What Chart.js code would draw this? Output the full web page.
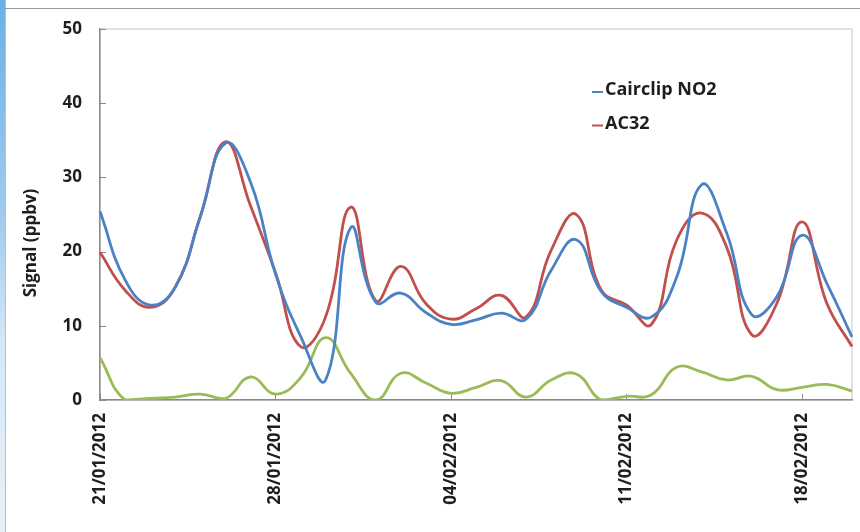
<!DOCTYPE html>
<html>
<head>
<meta charset="utf-8">
<script src="https://cdn.jsdelivr.net/npm/chart.js@4/dist/chart.umd.min.js"></script>
<style>
  html, body { margin: 0; padding: 0; background: #fff; }
  #wrap { position: relative; width: 860px; height: 532px; overflow: hidden; }
  #edge { position: absolute; left: 0; top: 0; width: 5px; height: 532px;
          background: linear-gradient(#6cb0e4, #9fcaee 40%, #d6e8f7 65%, #e6f0fa); }
  #edgeLine { position: absolute; left: 5px; top: 0; width: 1px; height: 532px; background: #b4c0cc; }
  #topLine { position: absolute; left: 5px; top: 8px; width: 855px; height: 1px; background: #9a9a9a; }
  canvas { position: absolute; left: 0; top: 0; }
</style>
</head>
<body>
<div id="wrap">
  <div id="edge"></div>
  <div id="edgeLine"></div>
  <div id="topLine"></div>
  <canvas id="signal" width="860" height="532"></canvas>
</div>
<script>
// daily samples, 21 Jan - 20 Feb 2012
const dates = [
  '21/01/2012', '22/01/2012', '23/01/2012', '24/01/2012', '25/01/2012', '26/01/2012',
  '27/01/2012', '28/01/2012', '29/01/2012', '30/01/2012', '31/01/2012', '01/02/2012',
  '02/02/2012', '03/02/2012', '04/02/2012', '05/02/2012', '06/02/2012', '07/02/2012',
  '08/02/2012', '09/02/2012', '10/02/2012', '11/02/2012', '12/02/2012', '13/02/2012',
  '14/02/2012', '15/02/2012', '16/02/2012', '17/02/2012', '18/02/2012', '19/02/2012',
  '20/02/2012'
];
const labelEvery = 7;          // one date label per week
const yMin = 0, yMax = 50, yStep = 10;

const cairclip = [25.4, 16.2, 12.8, 15.2, 24.7, 34.6, 29.4, 17.0, 8.6, 2.7, 23.2,
                  13.2, 14.4, 11.8, 10.2, 10.8, 11.7, 10.9, 17.5, 21.6, 14.6, 12.5,
                  11.2, 16.5, 29.0, 22.5, 11.5, 13.9, 22.2, 15.7, 8.5];
const ac32     = [19.9, 14.8, 12.5, 15.2, 24.7, 34.8, 26.2, 17.2, 7.2, 11.2, 26.0,
                  13.4, 18.0, 13.0, 10.9, 12.3, 14.1, 11.2, 20.2, 25.0, 14.8, 12.8,
                  10.2, 21.5, 25.2, 20.6, 8.8, 13.0, 24.0, 13.0, 7.2];
const diff     = [5.7, 0.0, 0.2, 0.4, 0.8, 0.2, 3.1, 0.8, 3.0, 8.4, 3.6,
                  0.0, 3.6, 2.3, 0.9, 1.7, 2.6, 0.4, 2.7, 3.5, 0.0, 0.5,
                  0.7, 4.4, 3.8, 2.7, 3.2, 1.4, 1.7, 2.1, 1.2];

const FONT = "'Open Sans', 'Noto Sans', sans-serif";
const INK = '#1e1e1e';
const AXIS = '#8a8a8a';

// frame, inner tick marks, legend and y title
const decor = {
  id: 'decor',
  beforeDraw(chart) {
    const { ctx, chartArea: a } = chart;
    ctx.save();
    ctx.strokeStyle = '#d9d9d9';
    ctx.lineWidth = 1.5;
    ctx.strokeRect(a.left, a.top, a.right - a.left, a.bottom - a.top);
    ctx.restore();
  },
  beforeDatasetsDraw(chart) {
    const { ctx, chartArea: a, scales } = chart;
    ctx.save();
    ctx.strokeStyle = AXIS;
    ctx.lineWidth = 1;
    ctx.beginPath();
    dates.forEach((d, i) => {
      if (i % labelEvery) return;
      const x = Math.round(scales.x.getPixelForValue(i)) + 0.5;
      ctx.moveTo(x, a.bottom);
      ctx.lineTo(x, a.bottom - 6);
    });
    for (let v = yMin; v <= yMax; v += yStep) {
      const y = Math.round(scales.y.getPixelForValue(v)) + 0.5;
      ctx.moveTo(a.left, y);
      ctx.lineTo(a.left + 6, y);
    }
    ctx.stroke();
    ctx.restore();
  },
  afterDraw(chart) {
    const { ctx } = chart;
    ctx.save();
    // y axis title
    ctx.translate(31, 243);
    ctx.rotate(-Math.PI / 2);
    ctx.font = 'bold 17px ' + FONT;
    ctx.fillStyle = INK;
    ctx.textAlign = 'center';
    ctx.textBaseline = 'middle';
    ctx.fillText('Signal (ppbv)', 0, 0);
    ctx.restore();

    // legend
    ctx.save();
    ctx.font = 'bold 18px ' + FONT;
    ctx.textBaseline = 'middle';
    let y = 90;
    chart.data.datasets.filter(ds => ds.inLegend).forEach(ds => {
      ctx.strokeStyle = ds.borderColor;
      ctx.lineWidth = 2;
      ctx.beginPath();
      ctx.moveTo(592, y + 2);
      ctx.lineTo(603, y + 2);
      ctx.stroke();
      ctx.fillStyle = INK;
      ctx.fillText(ds.label, 605, y);
      y += 33.5;
    });
    ctx.restore();
  }
};

new Chart(document.getElementById('signal'), {
  type: 'line',
  data: {
    labels: dates,
    datasets: [
      { label: 'Cairclip NO2', data: cairclip, borderColor: '#4a82c4', inLegend: true },
      { label: 'AC32', data: ac32, borderColor: '#c0504d', inLegend: true },
      { label: 'Difference', data: diff, borderColor: '#9bbb59', inLegend: false }
    ]
  },
  options: {
    responsive: false,
    animation: false,
    layout: { padding: { left: 0, right: 8, top: 29, bottom: 0 } },
    elements: {
      point: { radius: 0 },
      line: { tension: 0.45, borderWidth: 2.8, fill: false }
    },
    plugins: {
      legend: { display: false },
      tooltip: { enabled: false }
    },
    scales: {
      x: {
        type: 'category',
        offset: false,
        grid: { display: false, drawTicks: false },
        border: { color: AXIS, width: 1.5 },
        ticks: {
          autoSkip: false,
          minRotation: 90,
          maxRotation: 90,
          padding: 13,
          color: INK,
          font: { family: FONT, size: 17, weight: 'bold' },
          callback: (v, i) => (i % labelEvery === 0 ? dates[i] : '')
        },
        afterFit: s => {
          s.height = 132;
          s.paddingLeft = 0;
          s.paddingRight = 0;
        }
      },
      y: {
        min: yMin,
        max: yMax,
        grid: { display: false, drawTicks: false },
        border: { color: AXIS, width: 1.5 },
        ticks: {
          stepSize: yStep,
          padding: 18,
          color: INK,
          font: { family: FONT, size: 17, weight: 'bold' }
        },
        afterFit: s => { s.width = 100; }
      }
    }
  },
  plugins: [decor]
});
</script>
</body>
</html>
